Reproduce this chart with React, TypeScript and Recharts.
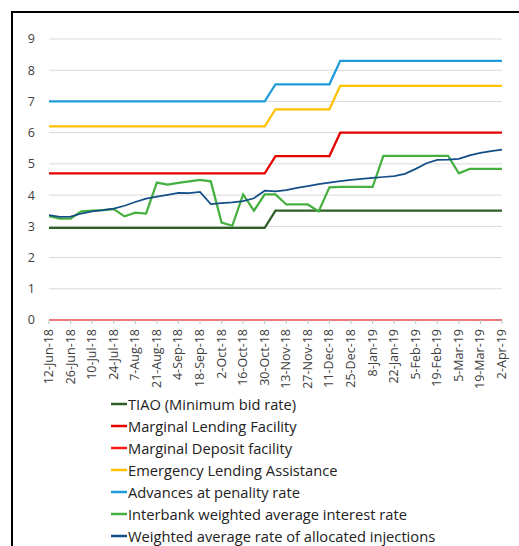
import { LineChart, Line, XAxis, YAxis, CartesianGrid, Legend } from 'recharts';

const dates = [
  '12-Jun-18', '19-Jun-18', '26-Jun-18', '3-Jul-18', '10-Jul-18', '17-Jul-18', '24-Jul-18', '31-Jul-18',
  '7-Aug-18', '14-Aug-18', '21-Aug-18', '28-Aug-18', '4-Sep-18', '11-Sep-18', '18-Sep-18', '25-Sep-18',
  '2-Oct-18', '9-Oct-18', '16-Oct-18', '23-Oct-18', '30-Oct-18', '6-Nov-18', '13-Nov-18', '20-Nov-18',
  '27-Nov-18', '4-Dec-18', '11-Dec-18', '18-Dec-18', '25-Dec-18', '1-Jan-19', '8-Jan-19', '15-Jan-19',
  '22-Jan-19', '29-Jan-19', '5-Feb-19', '12-Feb-19', '19-Feb-19', '26-Feb-19', '5-Mar-19', '12-Mar-19',
  '19-Mar-19', '26-Mar-19', '2-Apr-19',
];

// policy rates (step changes end Oct 18 and mid Dec 18)
const tiao = [
  2.95, 2.95, 2.95, 2.95, 2.95, 2.95, 2.95, 2.95, 2.95, 2.95, 2.95, 2.95, 2.95, 2.95, 2.95, 2.95,
  2.95, 2.95, 2.95, 2.95, 2.95, 3.5, 3.5, 3.5, 3.5, 3.5, 3.5, 3.5, 3.5, 3.5, 3.5, 3.5,
  3.5, 3.5, 3.5, 3.5, 3.5, 3.5, 3.5, 3.5, 3.5, 3.5, 3.5,
];
const lendingFacility = [
  4.7, 4.7, 4.7, 4.7, 4.7, 4.7, 4.7, 4.7, 4.7, 4.7, 4.7, 4.7, 4.7, 4.7, 4.7, 4.7,
  4.7, 4.7, 4.7, 4.7, 4.7, 5.25, 5.25, 5.25, 5.25, 5.25, 5.25, 6, 6, 6, 6, 6,
  6, 6, 6, 6, 6, 6, 6, 6, 6, 6, 6,
];
const depositFacility = [
  0, 0, 0, 0, 0, 0, 0, 0, 0, 0, 0, 0, 0, 0, 0, 0,
  0, 0, 0, 0, 0, 0, 0, 0, 0, 0, 0, 0, 0, 0, 0, 0,
  0, 0, 0, 0, 0, 0, 0, 0, 0, 0, 0,
];
const emergency = [
  6.2, 6.2, 6.2, 6.2, 6.2, 6.2, 6.2, 6.2, 6.2, 6.2, 6.2, 6.2, 6.2, 6.2, 6.2, 6.2,
  6.2, 6.2, 6.2, 6.2, 6.2, 6.75, 6.75, 6.75, 6.75, 6.75, 6.75, 7.5, 7.5, 7.5, 7.5, 7.5,
  7.5, 7.5, 7.5, 7.5, 7.5, 7.5, 7.5, 7.5, 7.5, 7.5, 7.5,
];
const penalty = [
  7, 7, 7, 7, 7, 7, 7, 7, 7, 7, 7, 7, 7, 7, 7, 7,
  7, 7, 7, 7, 7, 7.55, 7.55, 7.55, 7.55, 7.55, 7.55, 8.3, 8.3, 8.3, 8.3, 8.3,
  8.3, 8.3, 8.3, 8.3, 8.3, 8.3, 8.3, 8.3, 8.3, 8.3, 8.3,
];
const interbank = [
  3.33, 3.25, 3.25, 3.48, 3.5, 3.52, 3.55, 3.32, 3.44, 3.41, 4.4, 4.34, 4.39, 4.44, 4.49, 4.44,
  3.12, 3.02, 4.02, 3.5, 4.02, 4.02, 3.7, 3.7, 3.7, 3.48, 4.25, 4.26, 4.26, 4.26, 4.26, 5.26,
  5.26, 5.26, 5.26, 5.26, 5.26, 5.26, 4.7, 4.84, 4.84, 4.84, 4.84,
];
const allocated = [
  3.36, 3.3, 3.31, 3.41, 3.48, 3.52, 3.57, 3.66, 3.78, 3.89, 3.95, 4.01, 4.07, 4.06, 4.1, 3.71,
  3.74, 3.77, 3.81, 3.9, 4.14, 4.12, 4.16, 4.23, 4.29, 4.35, 4.4, 4.45, 4.49, 4.52, 4.55, 4.58,
  4.61, 4.68, 4.84, 5.02, 5.13, 5.14, 5.16, 5.27, 5.35, 5.41, 5.46,
];

const yTicks = [0, 1, 2, 3, 4, 5, 6, 7, 8, 9];

const series = [
  { key: 'tiao', name: 'TIAO (Minimum bid rate)', color: '#2f5f27', width: 2.25, values: tiao },
  { key: 'mlf', name: 'Marginal Lending Facility', color: '#e60000', width: 2.25, values: lendingFacility },
  { key: 'mdf', name: 'Marginal Deposit facility', color: '#ff1a1a', width: 2, values: depositFacility },
  { key: 'ela', name: 'Emergency Lending Assistance', color: '#ffc000', width: 2.25, values: emergency },
  { key: 'adv', name: 'Advances at penality rate', color: '#1f9bd9', width: 2.25, values: penalty },
  { key: 'ib', name: 'Interbank weighted average interest rate', color: '#45b040', width: 2.25, values: interbank },
  { key: 'wa', name: 'Weighted average rate of allocated injections', color: '#134f86', width: 1.75, values: allocated },
];

const data = dates.map((d, i) => {
  const row: any = { date: d };
  series.forEach((s) => { row[s.key] = s.values[i]; });
  return row;
});

const FONT = '"Open Sans", "Noto Sans", sans-serif';

const DateTick = ({ x, y, payload }: any) => (
  <text
    x={x}
    y={y}
    dx={-3}
    dy={4}
    transform={`rotate(-90, ${x}, ${y})`}
    textAnchor="end"
    fontSize={12.5}
    fontFamily={FONT}
    fill="#404040"
  >
    {payload.value}
  </text>
);

const LegendBox = () => (
  <div style={{ fontFamily: FONT, fontSize: 14.7, color: '#222' }}>
    {series.map((s) => (
      <div key={s.key} style={{ display: 'flex', alignItems: 'center', height: 22, whiteSpace: 'nowrap' }}>
        <svg width={16} height={4} style={{ marginRight: 1 }}>
          <line x1={0} y1={2} x2={16} y2={2} stroke={s.color} strokeWidth={2.5} />
        </svg>
        <span>{s.name}</span>
      </div>
    ))}
  </div>
);

const App = () => {
  return (
    <div style={{ position: 'fixed', left: 0, top: 0, width: 519, height: 546, background: '#fff', overflow: 'hidden' }}>
      <div
        style={{
          position: 'absolute', left: 11, top: 11, width: 520, height: 540,
          borderTop: '2px solid #000', borderLeft: '2px solid #000',
        }}
      />
      <div style={{ position: 'absolute', left: 0, top: 0 }}>
        <LineChart width={519} height={546} data={data} margin={{ top: 39, right: 17, bottom: 2, left: 19 }}>
          <CartesianGrid vertical={false} stroke="#d9d9d9" />
          <XAxis
            dataKey="date"
            interval={1}
            height={70}
            tick={<DateTick />}
            tickSize={4}
            tickLine={{ stroke: '#bfbfbf' }}
            axisLine={{ stroke: '#d9d9d9' }}
          />
          <YAxis
            domain={[0, 9]}
            ticks={yTicks}
            width={30}
            axisLine={false}
            tickLine={false}
            tickMargin={8}
            tick={{ fontSize: 12.5, fontFamily: FONT, fill: '#404040' }}
          />
          <Legend
            layout="horizontal"
            verticalAlign="bottom"
            align="left"
            content={<LegendBox />}
            wrapperStyle={{ left: 111, top: 393, bottom: 'auto', width: 400 }}
          />
          {series.map((s) => (
            <Line
              key={s.key}
              dataKey={s.key}
              name={s.name}
              stroke={s.color}
              strokeWidth={s.width}
              dot={false}
              type="linear"
              isAnimationActive={false}
            />
          ))}
        </LineChart>
      </div>
    </div>
  );
};

export default App;
